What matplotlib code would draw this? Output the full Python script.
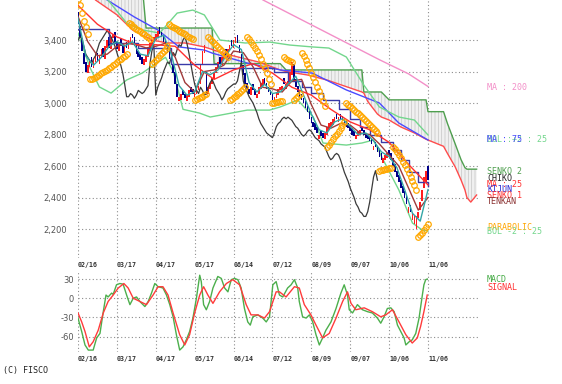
import numpy as np
import matplotlib
matplotlib.use("Agg")
import matplotlib.pyplot as plt

# ---- daily candles, trading-day index 0 (02/16) .. 180 ----
closes = [
    3500, 3420, 3330, 3250, 3200, 3240, 3280, 3230, 3270, 3310,
    3260, 3300, 3340, 3290, 3360, 3400, 3350, 3420, 3440, 3380,
    3340, 3390, 3360, 3320, 3370, 3350, 3400, 3420, 3410, 3360,
    3310, 3290, 3270, 3250, 3280, 3300, 3340, 3380, 3400, 3420,
    3440, 3460, 3440, 3420, 3390, 3360, 3320, 3280, 3240, 3190,
    3120, 3040, 3040, 3060, 3050, 3030, 3050, 3080, 3070, 3060,
    3070, 3090, 3110, 3250, 3330, 3370, 3050, 3100, 3130, 3160,
    3200, 3230, 3260, 3250, 3290, 3320, 3300, 3340, 3370, 3360,
    3400, 3420, 3380, 3320, 3250, 3180, 3120, 3080, 3060, 3100,
    3080, 3050, 3060, 3100, 3130, 3150, 3120, 3090, 3070, 3050,
    3020, 3040, 3070, 3090, 3100, 3110, 3120, 3120, 3140, 3200,
    3260, 3140, 3100, 3070, 3040, 3020, 3000, 2970, 2940, 2900,
    2870, 2850, 2830, 2810, 2800, 2790, 2780, 2810, 2850, 2870,
    2880, 2900, 2910, 2900, 2910, 2900, 2890, 2870, 2850, 2840,
    2820, 2800, 2790, 2800, 2820, 2830, 2820, 2800, 2780, 2770,
    2760, 2740, 2730, 2720, 2690, 2660, 2640, 2650, 2670, 2680,
    2670, 2640, 2600, 2560, 2530, 2500, 2460, 2430, 2400, 2360,
    2340, 2310, 2300, 2280, 2280, 2310, 2370, 2450, 2530, 2570,
    2510,
]
opens = [
    3580, 3490, 3410, 3320, 3260, 3190, 3230, 3290, 3220, 3260,
    3320, 3250, 3290, 3350, 3280, 3350, 3420, 3340, 3410, 3450,
    3390, 3330, 3410, 3370, 3310, 3390, 3340, 3380, 3440, 3420,
    3370, 3330, 3310, 3290, 3240, 3260, 3290, 3330, 3360, 3390,
    3400, 3420, 3480, 3450, 3430, 3400, 3370, 3330, 3290, 3250,
    3200, 3120, 3010, 3020, 3080, 3060, 3010, 3040, 3100, 3090,
    3040, 3060, 3080, 3120, 3240, 3320, 3200, 3060, 3090, 3120,
    3150, 3190, 3220, 3290, 3240, 3280, 3340, 3290, 3330, 3400,
    3350, 3380, 3430, 3370, 3310, 3240, 3190, 3130, 3090, 3050,
    3120, 3090, 3030, 3060, 3090, 3110, 3160, 3130, 3100, 3080,
    3060, 3010, 3030, 3050, 3080, 3080, 3160, 3090, 3110, 3130,
    3180, 3250, 3150, 3110, 3080, 3060, 3030, 3010, 2980, 2950,
    2910, 2880, 2870, 2850, 2770, 2820, 2810, 2770, 2800, 2830,
    2850, 2860, 2880, 2930, 2880, 2930, 2920, 2900, 2890, 2870,
    2860, 2840, 2820, 2770, 2790, 2800, 2850, 2830, 2810, 2800,
    2790, 2770, 2700, 2750, 2730, 2700, 2680, 2620, 2640, 2650,
    2700, 2680, 2650, 2610, 2570, 2540, 2510, 2470, 2440, 2410,
    2300, 2350, 2260, 2230, 2200, 2270, 2320, 2380, 2460, 2500,
    2600,
]
# parabolic SAR, one dot per day
sar = [
    3660, 3620, 3570, 3520, 3480, 3440,
    3150, 3155, 3160, 3165, 3172, 3180, 3188, 3196, 3204, 3212,
    3220, 3230, 3240, 3250, 3260, 3270, 3280, 3290, 3300, 3310,
    3510, 3500, 3491, 3482, 3473, 3464, 3455, 3446, 3437, 3428, 3418, 3408,
    3250, 3262, 3275, 3288, 3302, 3316, 3330, 3345, 3360,
    3500, 3492, 3484, 3476, 3468, 3460, 3452, 3444, 3436, 3428, 3420, 3412, 3404,
    3020, 3025, 3030, 3035, 3040, 3048, 3056,
    3420, 3408, 3396, 3384, 3371, 3358, 3345, 3332, 3318, 3304, 3290,
    3020, 3028, 3036, 3045, 3055, 3065, 3076, 3088, 3100,
    3420, 3405, 3388, 3370, 3350, 3328, 3304, 3278, 3250, 3220, 3188, 3154, 3118,
    3000, 3003, 3006, 3009, 3012, 3015,
    3290, 3282, 3274, 3266, 3258,
    3020, 3030, 3042, 3055,
    3320, 3296, 3272, 3246, 3220, 3192, 3164, 3134, 3104, 3074, 3044, 3014, 2984,
    2720, 2735, 2752, 2770, 2788, 2806, 2824, 2842, 2860, 2878,
    3000, 2990, 2980, 2969, 2958, 2946, 2934, 2922, 2910, 2898, 2886, 2873,
    2860, 2847, 2834, 2821, 2808,
    2570, 2572, 2575, 2578, 2581, 2585, 2590,
    2720, 2705, 2688, 2670, 2650, 2628, 2604, 2580, 2555, 2530, 2505, 2478, 2450,
    2150, 2160, 2175, 2192, 2212, 2235,
]
CHIKO_SHIFT = 26

# ---- indicator lines (day, value) ----
ma200_day = [92, 95, 110, 125, 140, 155, 170, 180]
ma200 = [3700, 3655, 3560, 3465, 3370, 3275, 3185, 3105]

ma75_day = [0, 15, 29, 41, 52, 65, 69, 87, 104, 120.5, 138, 155, 165, 180]
ma75 = [3780, 3654, 3546, 3464, 3356, 3336, 3317, 3254, 3210, 3190, 3083, 3000, 2873, 2765]

ma25_day = list(range(0, 181, 10))
ma25 = [3620, 3500, 3420, 3370, 3370, 3360, 3240, 3150, 3210, 3250,
        3190, 3100, 3050, 2960, 2880, 2830, 2750, 2610, 2480]

bol_up_day = [0, 8, 15.4, 25, 33, 42, 51, 59, 65, 73, 86, 98.5, 109, 120.5, 129, 138,
              147, 155, 165, 173, 180]
bol_up = [3850, 3760, 3654, 3508, 3464, 3444, 3571, 3590, 3559, 3400, 3381, 3387, 3368,
          3356, 3349, 3292, 3114, 2975, 2911, 2892, 2797]

bol_dn_day = [0, 6, 11, 17, 25, 33, 40, 45, 49, 54, 62.5, 68, 87, 98.5, 104, 113, 121,
              126, 138, 146, 152, 157, 165, 172, 177, 180]
bol_dn = [3444, 3229, 3102, 3063, 3146, 3190, 3250, 3290, 3200, 2960, 2936, 2911, 2955,
          2955, 2975, 3019, 2911, 2746, 2733, 2746, 2765, 2638, 2448, 2238, 2194, 2187]

short_ma_day = list(range(0, 181, 4))
short_ma = [3540, 3300, 3240, 3290, 3360, 3390, 3360, 3390, 3310, 3300, 3410, 3430,
            3310, 3110, 3050, 3070, 3200, 3180, 3210, 3300, 3370, 3340, 3130, 3070,
            3120, 3060, 3070, 3120, 3170, 3050, 2930, 2830, 2810, 2880, 2900, 2850,
            2800, 2810, 2760, 2690, 2660, 2590, 2450, 2300, 2250, 2450]

tenkan_day = list(range(0, 181, 5))
tenkan = [3550, 3390, 3300, 3310, 3360, 3380, 3370, 3350, 3360, 3380, 3290, 3130,
          3070, 3200, 3210, 3240, 3330, 3320, 3230, 3100, 3090, 3070, 3140, 3150,
          2990, 2860, 2840, 2870, 2860, 2810, 2800, 2740, 2670, 2600, 2460, 2320, 2400]

kijun_day = [0, 16, 31, 48, 72, 101, 108, 115, 120, 126, 134, 140, 145, 150, 156, 162,
             166, 170, 175, 180]
kijun = [3470, 3380, 3350, 3250, 3225, 3200, 3140, 3100, 3065, 3020, 2960, 2900, 2845,
         2800, 2750, 2700, 2640, 2560, 2500, 2470]

cloud_day = [0, 9, 20, 28, 33, 35, 38, 46, 55, 65, 69, 70, 78, 93, 104, 107, 118, 128,
             146, 147, 149, 154, 156, 160, 166, 173, 179, 180, 184, 188, 190, 194, 197,
             199, 200, 202, 205]
senko1 = [3800, 3654, 3560, 3464, 3430, 3420, 3400, 3381, 3381, 3356, 3340, 3335, 3305,
          3260, 3210, 3200, 3178, 3146, 3070, 3063, 3010, 2930, 2911, 2892, 2848, 2810,
          2770, 2765, 2745, 2725, 2680, 2594, 2511, 2448, 2400, 2371, 2416]
senko2 = [3750, 3750, 3750, 3750, 3750, 3476, 3476, 3476, 3476, 3476, 3476, 3250, 3250,
          3250, 3250, 3210, 3210, 3210, 3210, 3070, 3070, 3070, 3070, 3020, 3020, 3020,
          3020, 2945, 2945, 2945, 2870, 2740, 2640, 2590, 2580, 2580, 2580]

# ---- MACD panel ----
macd_day = [0, 1.9, 3.6, 5.3, 7.8, 9.6, 11.3, 13, 14.4, 15.5, 17.3, 18.1, 19.8, 21.5,
            23.2, 25, 26.7, 28.4, 30.1, 31.8, 34.4, 36.1, 37.8, 39.5, 41.2, 43.7, 45.5,
            47.2, 48.9, 50.6, 52.3, 54, 55.7, 57.4, 59.1, 60.9, 62.6, 63.4, 64.6, 66,
            67.7, 69.4, 71.9, 73.7, 75.4, 77.1, 78.8, 80.5, 82.2, 83.9, 85.6, 87.3, 88.6,
            89.9, 92.5, 95, 96.8, 98.5, 100.2, 101.9, 103.6, 105.3, 107.8, 109.6, 111.3,
            113, 113.8, 115.5, 117.3, 119, 120.7, 122.4, 124.1, 125.8, 127.5, 130.1,
            132.7, 135.2, 136.9, 138.6, 139.5, 141.2, 143.7, 146.3, 148.9, 151.4, 154,
            155.7, 157.4, 159.1, 160.9, 162.6, 164.3, 166, 167.7, 168.6, 170.3, 171.9,
            173.7, 175.4, 177.1, 177.9, 178.8, 179.6]
macd = [-31, -52, -73, -81, -81, -62, -55, -21, 5, 2, 8, 6, 21, 23, 22, 5, -10, 0, 2, -5,
        -13, -5, 8, 23, 18, 16, 5, -10, -29, -57, -81, -76, -65, -52, -31, 0, 36, 26,
        -10, -18, -5, 16, 34, 31, 16, 10, 29, 31, 29, 16, -16, -37, -42, -29, -26, -31,
        -37, -29, 21, 26, 5, 2, 16, 21, 29, 16, -5, -29, -31, -26, -37, -57, -73, -62,
        -50, -37, -16, 8, 21, 5, -18, -23, -10, -18, -21, -23, -31, -39, -29, -16, -15,
        -21, -42, -52, -62, -73, -68, -65, -55, -31, 5, 21, 29, 30]
signal_day = [0, 1.9, 3.6, 5.8, 7.8, 10.4, 13, 15.5, 18.1, 20.7, 23.6, 25.8, 28.4, 31.8,
              35.2, 38.6, 41.2, 43.7, 46.3, 48.9, 52.3, 54.9, 57.4, 60, 62.6, 64.6, 66.8,
              69.4, 72.8, 76.3, 77.9, 79.6, 83.1, 86.5, 89, 92.5, 95.9, 98.5, 101.9, 103.6,
              107, 111.3, 113.8, 116.4, 119.8, 122.4, 125.8, 129.2, 132.7, 136.1, 138.6,
              140.4, 142.9, 147.2, 151.4, 155.7, 158.3, 161.7, 165.1, 168.6, 171.9, 174.5,
              176.2, 177.9, 179.6]
signal = [-23, -37, -52, -76, -68, -50, -23, -5, 5, 16, 23, 16, 0, -5, -10, 5, 18, 18, 5,
          -23, -57, -73, -57, -23, 5, 18, 5, -8, 10, 23, 26, 29, 21, -10, -26, -26, -31,
          -21, 10, 10, 2, 18, 16, -10, -26, -42, -62, -55, -31, -5, 10, -8, -18, -15, -21,
          -29, -26, -18, -37, -57, -70, -62, -44, -21, 5]

tick_day = [0, 20, 40, 60, 80, 100, 120, 140, 160, 180]
tick_labels = ["02/16", "03/17", "04/17", "05/17", "06/14", "07/12", "08/09",
               "09/07", "10/06", "11/06"]
price_ticks = [2200, 2400, 2600, 2800, 3000, 3200, 3400]
macd_ticks = [-60, -30, 0, 30]

# ---- figure ----
W, H = 562, 384
fig = plt.figure(figsize=(W / 100, H / 100), dpi=100)
plt.rcParams["hatch.linewidth"] = 0.5
plt.rcParams["hatch.color"] = "#bdbdbd"
MONO = "DejaVu Sans Mono"


def px_axes(x0, y0, x1, y1):
    return fig.add_axes([x0 / W, 1 - y1 / H, (x1 - x0) / W, (y1 - y0) / H])


def style_axes(a, yticks, ylabels, ypad):
    for s in a.spines.values():
        s.set_visible(False)
    a.set_xlim(0, 180 * 400 / 350)
    a.set_axisbelow(True)
    a.grid(True, color="#8c8c8c", linestyle=(0, (1, 2.2)), linewidth=0.8)
    a.set_xticks(tick_day)
    a.set_xticklabels(tick_labels, ha="left", fontfamily=MONO, fontweight="bold",
                      fontsize=4.8, color="#333333")
    a.set_yticks(yticks)
    a.set_yticklabels(ylabels, fontsize=6, color="#555555")
    a.tick_params(axis="x", length=0, pad=3)
    a.tick_params(axis="y", length=0, pad=ypad)


ax = px_axes(78, 0, 478, 258)
axm = px_axes(78, 272, 478, 352)

days = np.arange(len(closes))
o = np.array(opens)
c = np.array(closes)

ax.fill_between(cloud_day, senko1, senko2, facecolor="#f0f0f0", edgecolor="#c4c4c4",
                hatch="|||||", linewidth=0, zorder=1)
ax.plot(cloud_day, senko2, color="#4f9f4f", lw=1, zorder=2)
ax.plot(cloud_day, senko1, color="#ff4c4c", lw=1, zorder=2)
ax.plot(ma200_day, ma200, color="#f38fc8", lw=1, zorder=3)
ax.plot(ma75_day, ma75, color="#4a4aff", lw=1, zorder=3)
ax.plot(bol_up_day, bol_up, color="#72d68c", lw=1, zorder=3)
ax.plot(bol_dn_day, bol_dn, color="#72d68c", lw=1, zorder=3)

ax.bar(days, c - o, bottom=o, width=0.85,
       color=np.where(c >= o, "#ff1e1e", "#000088"), zorder=4)

ax.plot(days[CHIKO_SHIFT:] - CHIKO_SHIFT, c[CHIKO_SHIFT:], color="#3a3a3a", lw=0.9, zorder=5)
ax.plot(kijun_day, kijun, color="#3a3aa8", lw=1, drawstyle="steps-post", zorder=5)
ax.plot(tenkan_day, tenkan, color="#a03a3a", lw=1, zorder=5)
ax.plot(ma25_day, ma25, color="#ff3030", lw=1, zorder=5)
ax.plot(short_ma_day, short_ma, color="#33a6a6", lw=1, zorder=5)
ax.plot(days, sar, linestyle="none", marker="o", ms=4.0, mfc="none", mec="#ffa800",
        mew=0.9, zorder=6)

ax.set_ylim(2016, 3654)
style_axes(ax, price_ticks, [f"{v:,}" for v in price_ticks], 8)

axm.plot(macd_day, macd, color="#4caf4c", lw=1)
axm.plot(signal_day, signal, color="#ff3b3b", lw=1)
axm.set_ylim(-84, 41)
style_axes(axm, macd_ticks, [str(v) for v in macd_ticks], 3)

# right-hand legend labels (overlapping as in the original chart)
labels = [
    ("MA : 200", "#f38fc8", 88),
    ("BOL :+2 : 25", "#72d68c", 140),
    ("MA : 75", "#4a4aff", 140),
    ("SENKO 2", "#4f9f4f", 171),
    ("CHIKO", "#222222", 179),
    ("MA : 25", "#ff3030", 184),
    ("KIJUN", "#2a2ad0", 189),
    ("SENKO 1", "#ff3030", 196),
    ("TENKAN", "#8a3030", 202),
    ("PARABOLIC", "#ffa500", 227),
    ("BOL -2 : 25", "#72d68c", 231),
    ("MACD", "#44aa44", 279),
    ("SIGNAL", "#ff3030", 288),
]
for text, col, y in labels:
    fig.text(487 / W, 1 - y / H, text, color=col, fontsize=6, fontfamily=MONO,
             va="center", ha="left")

fig.text(3 / W, 1 - 370 / H, "(C) FISCO", color="#222222", fontsize=6,
         fontfamily=MONO, va="center", ha="left")

fig.savefig("out.png", dpi=100)
